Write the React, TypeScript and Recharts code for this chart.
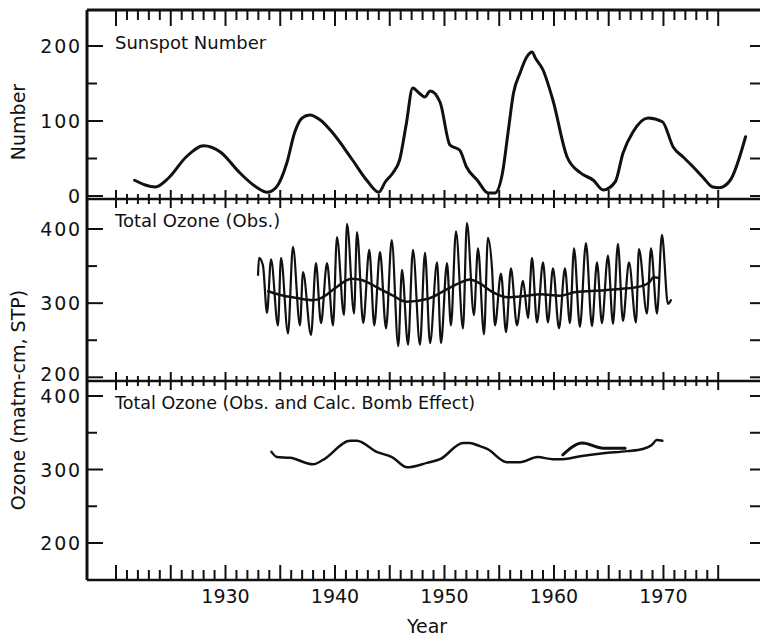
import { LineChart, Line, XAxis, YAxis, ReferenceLine } from 'recharts';

const INK = '#111';
const FONT = '"DejaVu Sans", Verdana, sans-serif';

// sunspot number (smoothed)
const sunspotYears = [1921.7, 1922.6, 1923.6, 1924.8, 1926.4, 1928.0, 1929.5, 1931.3, 1932.8, 1933.8, 1934.6, 1935.6, 1936.3, 1937.0, 1937.7, 1938.6, 1939.8, 1941.6, 1942.9, 1944.0, 1944.6, 1945.3, 1945.9, 1946.5, 1947.1, 1947.7, 1948.2, 1948.7, 1949.6, 1950.5, 1951.4, 1952.0, 1953.0, 1954.0, 1954.6, 1955.3, 1955.8, 1956.3, 1956.9, 1957.5, 1958.0, 1958.3, 1959.0, 1959.9, 1961.2, 1962.4, 1963.6, 1964.5, 1965.6, 1966.3, 1967.2, 1968.6, 1969.9, 1970.9, 1971.8, 1972.7, 1973.6, 1974.5, 1975.1, 1976.1, 1977.5];
const sunspotValues = [21, 15, 12, 24, 52, 67, 59, 31, 12, 5, 11, 44, 84, 104, 108, 102, 84, 48, 21, 5, 19, 31, 48, 95, 144, 137, 132, 140, 125, 68, 61, 39, 21, 4, 4, 31, 84, 137, 164, 185, 192, 184, 168, 128, 52, 31, 21, 8, 19, 57, 85, 104, 99, 65, 52, 39, 25, 12, 11, 21, 79];

// total ozone, observed (seasonal swings)
const ozoneObsYears = [1932.97, 1933.06, 1933.42, 1933.79, 1934.16, 1934.79, 1935.07, 1935.71, 1936.16, 1936.8, 1937.08, 1937.81, 1938.26, 1938.72, 1939.27, 1939.82, 1940.18, 1940.82, 1941.1, 1941.74, 1942.01, 1942.58, 1943.13, 1943.59, 1944.11, 1944.66, 1945.18, 1945.78, 1946.12, 1946.67, 1947.12, 1947.76, 1948.22, 1948.68, 1949.32, 1949.68, 1950.23, 1950.59, 1951.05, 1951.69, 1952.05, 1952.69, 1953.06, 1953.61, 1953.97, 1954.34, 1954.61, 1955.16, 1955.62, 1956.07, 1956.62, 1957.17, 1957.63, 1957.99, 1958.45, 1959.0, 1959.45, 1959.91, 1960.46, 1961.0, 1961.46, 1961.83, 1962.37, 1962.92, 1963.47, 1963.93, 1964.38, 1964.93, 1965.39, 1965.84, 1966.3, 1966.85, 1967.49, 1967.76, 1968.49, 1968.86, 1969.41, 1969.86, 1970.41, 1970.68];
const ozoneObsValues = [338, 361, 351, 287, 359, 270, 361, 259, 376, 270, 342, 257, 354, 273, 354, 270, 389, 284, 407, 286, 396, 273, 372, 270, 369, 266, 385, 242, 345, 244, 372, 244, 368, 246, 355, 246, 354, 270, 397, 266, 408, 284, 374, 258, 388, 347, 270, 340, 261, 347, 270, 330, 280, 361, 274, 355, 274, 347, 266, 347, 273, 374, 268, 381, 269, 355, 273, 364, 272, 380, 276, 355, 274, 373, 286, 374, 286, 392, 299, 304];

// total ozone, running mean through the observations
const ozoneMeanYears = [1933.9, 1935.0, 1936.5, 1938.0, 1939.0, 1940.0, 1941.5, 1942.5, 1944.0, 1945.3, 1946.5, 1948.5, 1950.0, 1951.5, 1952.3, 1953.2, 1954.4, 1955.8, 1957.5, 1958.8, 1960.5, 1962.0, 1964.2, 1966.0, 1968.0, 1968.7, 1969.1, 1969.6];
const ozoneMeanValues = [316, 311, 307, 304, 309, 320, 333, 331, 320, 310, 302, 306, 317, 328, 332, 327, 315, 308, 310, 312, 310, 315, 317, 319, 323, 328, 335, 334];

// bottom panel: observed mean and calculated bomb effect
const ozoneCalcYears = [1934.2, 1934.7, 1935.9, 1938.0, 1938.9, 1941.4, 1942.0, 1943.8, 1945.2, 1946.6, 1948.4, 1949.6, 1951.7, 1952.3, 1953.2, 1953.9, 1955.7, 1956.9, 1958.5, 1959.9, 1960.8, 1962.4, 1964.5, 1966.7, 1968.1, 1968.9, 1969.4, 1969.9];
const ozoneCalcValues = [324, 317, 316, 307, 313, 339, 339, 324, 317, 303, 309, 314, 336, 336, 332, 328, 310, 310, 317, 314, 314, 318, 322, 325, 328, 333, 340, 339];
const bombYears = [1960.8, 1962.6, 1964.5, 1966.5];
const bombValues = [320, 336, 329, 329];

const yearTicks = Array.from({ length: 56 }, (_, i) => 1920 + i);
const yearLabels = [1930, 1940, 1950, 1960, 1970];
const sunspotTicks = [0, 50, 100, 150, 200];
const ozoneTicks = [200, 250, 300, 350, 400];

const X_DOMAIN: [number, number] = [1917.35, 1979];
const CHART_W = 770;
const PLOT_RIGHT = 762;

const rows = (xs: number[], ys: number[]) => xs.map((year, i) => ({ year, value: ys[i] }));

function makeYTick(lowestDy: number) {
  return (props: any) => {
    const { x, y, payload, index } = props;
    const v = payload.value;
    const major = v % 100 === 0;
    const dy = index === 0 ? lowestDy : 0;
    return (
      <g>
        <line x1={x} x2={x + (major ? 16 : 10)} y1={y} y2={y} stroke={INK} strokeWidth={2} />
        <line x1={PLOT_RIGHT - 12} x2={PLOT_RIGHT} y1={y} y2={y} stroke={INK} strokeWidth={2} />
        {major && (
          <text x={x - 5} y={y + dy} textAnchor="end" dominantBaseline="central" fontFamily={FONT} fontSize={19} letterSpacing={1.8} fill={INK}>
            {v}
          </text>
        )}
      </g>
    );
  };
}

function makeXTick(kind: 'top' | 'mid' | 'bottom', plotH: number) {
  return (props: any) => {
    const { x, y, payload } = props;
    const yr = payload.value;
    const major = yr % 5 === 0;
    const parts: any[] = [];
    if (kind === 'top') {
      const top = y - plotH;
      parts.push(<line key="t" x1={x} x2={x} y1={top} y2={top + (major ? 16 : 10)} stroke={INK} strokeWidth={2} />);
    }
    if (kind === 'bottom') {
      parts.push(<line key="b" x1={x} x2={x} y1={y} y2={y - (major ? 15 : 10)} stroke={INK} strokeWidth={2} />);
      if (yearLabels.includes(yr)) {
        parts.push(
          <text key="l" x={x} y={y + 23} textAnchor="middle" fontFamily={FONT} fontSize={19} fill={INK}>
            {yr}
          </text>
        );
      }
    } else {
      const h = major ? 9 : 5;
      parts.push(<line key="c" x1={x} x2={x} y1={y - h} y2={y + h} stroke={INK} strokeWidth={2} />);
    }
    return <g>{parts}</g>;
  };
}

function Panel({ top, height, mTop, mBottom, yDomain, yTicks, kind, lowestDy = 0, children }: any) {
  const plotH = height - mTop - mBottom - 1;
  return (
    <div style={{ position: 'absolute', left: 0, top }}>
      <LineChart width={CHART_W} height={height} margin={{ top: mTop, right: 8, bottom: mBottom, left: 27 }}>
        <XAxis
          dataKey="year"
          type="number"
          domain={X_DOMAIN}
          allowDataOverflow
          ticks={yearTicks}
          interval={0}
          height={1}
          tickSize={0}
          tickMargin={0}
          tickLine={false}
          axisLine={{ stroke: INK, strokeWidth: 2.5 }}
          tick={makeXTick(kind, plotH)}
        />
        <YAxis
          type="number"
          domain={yDomain}
          allowDataOverflow
          ticks={yTicks}
          interval={0}
          width={60}
          tickSize={0}
          tickMargin={0}
          tickLine={false}
          axisLine={{ stroke: INK, strokeWidth: 3 }}
          tick={makeYTick(lowestDy)}
        />
        {kind === 'top' && <ReferenceLine y={yDomain[1]} stroke={INK} strokeWidth={3} />}
        {children}
      </LineChart>
    </div>
  );
}

export default function App() {
  const lineProps = { type: 'monotone' as const, dataKey: 'value', stroke: INK, dot: false, isAnimationActive: false, strokeLinejoin: 'round' as const, strokeLinecap: 'round' as const };
  return (
    <div style={{ position: 'absolute', left: 0, top: 0, width: 760, height: 637, overflow: 'hidden', background: '#fff' }}>
      <Panel top={0} height={215} mTop={10} mBottom={15} yDomain={[-4, 248]} yTicks={sunspotTicks} kind="top">
        <Line {...lineProps} data={rows(sunspotYears, sunspotValues)} strokeWidth={3} />
      </Panel>
      <Panel top={184} height={213} mTop={15} mBottom={15} yDomain={[195, 440.5]} yTicks={ozoneTicks} kind="mid" lowestDy={-3}>
        <Line {...lineProps} data={rows(ozoneObsYears, ozoneObsValues)} strokeWidth={2.2} />
        <Line {...lineProps} data={rows(ozoneMeanYears, ozoneMeanValues)} strokeWidth={2.5} />
      </Panel>
      <Panel top={366} height={272} mTop={15} mBottom={57} yDomain={[149.7, 420.4]} yTicks={ozoneTicks} kind="bottom">
        <Line {...lineProps} data={rows(ozoneCalcYears, ozoneCalcValues)} strokeWidth={2.5} />
        <Line {...lineProps} data={rows(bombYears, bombValues)} strokeWidth={3} />
      </Panel>
      <svg width={760} height={637} style={{ position: 'absolute', left: 0, top: 0, pointerEvents: 'none' }}>
        <g fontFamily={FONT} fill={INK}>
          <text x={115} y={49} fontSize={18}>Sunspot Number</text>
          <text x={115} y={227} fontSize={18}>Total Ozone (Obs.)</text>
          <text x={115} y={409} fontSize={17.5}>Total Ozone (Obs. and Calc. Bomb Effect)</text>
          <text x={18} y={122} fontSize={19} textAnchor="middle" dominantBaseline="central" transform="rotate(-90 18 122)">Number</text>
          <text x={18} y={400} fontSize={19} textAnchor="middle" dominantBaseline="central" transform="rotate(-90 18 400)">Ozone (matm-cm, STP)</text>
          <text x={427} y={626} fontSize={19} textAnchor="middle" dominantBaseline="central">Year</text>
        </g>
      </svg>
    </div>
  );
}
